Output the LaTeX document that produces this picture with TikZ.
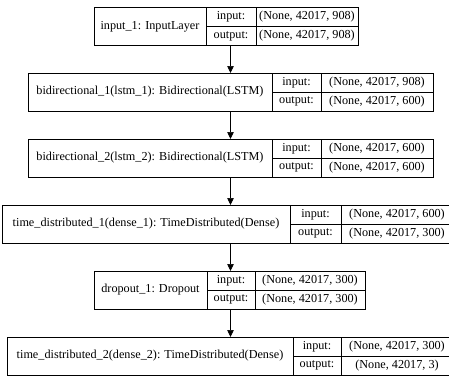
\documentclass[tikz,border=0pt]{standalone}
\usepackage{fontspec}
\setmainfont{Liberation Serif}
\usetikzlibrary{arrows.meta,positioning}

\begin{document}
\begin{tikzpicture}[x=1pt,y=-1pt,
cell/.style={draw,line width=.7pt,inner sep=0pt,outer sep=0pt,anchor=north west,font=\fontsize{12.2}{14}\selectfont},
lbl/.style={cell,minimum height=38pt},
key/.style={cell,minimum height=19pt},
arr/.style={-{Triangle[length=7pt,width=6.5pt]},line width=.7pt}]
\useasboundingbox (0,0) rectangle (449,376);
\clip (0,0) rectangle (449,376);
\coordinate (spine) at (230.5,0);
% input layer
\node[lbl,minimum width=112pt] at (94,7.5)(l1){input\_1: InputLayer};
\node[key,minimum width=50pt] at (l1.north east)(k1i){input:};
\node[key,minimum width=50pt] at (k1i.south west)(k1o){output:};
\node[key,minimum width=102pt] at (k1i.north east)(v1i){(None, 42017, 908)};
\node[key,minimum width=102pt] at (k1o.north east)(v1o){(None, 42017, 908)};
% lstm 1
\node[lbl,minimum width=244pt] at (28,73)(l2){bidirectional\_1(lstm\_1): Bidirectional(LSTM)};
\node[key,minimum width=49pt] at (l2.north east)(k2i){input:};
\node[key,minimum width=49pt] at (k2i.south west)(k2o){output:};
\node[key,minimum width=112pt] at (k2i.north east)(v2i){(None, 42017, 908)};
\node[key,minimum width=112pt] at (k2o.north east)(v2o){(None, 42017, 600)};
% lstm 2
\node[lbl,minimum width=244pt] at (28,139)(l3){bidirectional\_2(lstm\_2): Bidirectional(LSTM)};
\node[key,minimum width=49pt] at (l3.north east)(k3i){input:};
\node[key,minimum width=49pt] at (k3i.south west)(k3o){output:};
\node[key,minimum width=112pt] at (k3i.north east)(v3i){(None, 42017, 600)};
\node[key,minimum width=112pt] at (k3o.north east)(v3o){(None, 42017, 600)};
% dense 1
\node[lbl,minimum width=288pt] at (2,205)(l4){time\_distributed\_1(dense\_1): TimeDistributed(Dense)};
\node[key,minimum width=51pt] at (l4.north east)(k4i){input:};
\node[key,minimum width=51pt] at (k4i.south west)(k4o){output:};
\node[key,minimum width=112pt] at (k4i.north east)(v4i){(None, 42017, 600)};
\node[key,minimum width=112pt] at (k4o.north east)(v4o){(None, 42017, 300)};
% dropout
\node[lbl,minimum width=113pt] at (94,271)(l5){dropout\_1: Dropout};
\node[key,minimum width=48pt] at (l5.north east)(k5i){input:};
\node[key,minimum width=48pt] at (k5i.south west)(k5o){output:};
\node[key,minimum width=110pt] at (k5i.north east)(v5i){(None, 42017, 300)};
\node[key,minimum width=110pt] at (k5o.north east)(v5o){(None, 42017, 300)};
% dense 2
\node[lbl,minimum width=286pt] at (7,337)(l6){time\_distributed\_2(dense\_2): TimeDistributed(Dense)};
\node[key,minimum width=48pt] at (l6.north east)(k6i){input:};
\node[key,minimum width=48pt] at (k6i.south west)(k6o){output:};
\node[key,minimum width=112pt] at (k6i.north east)(v6i){(None, 42017, 300)};
\node[key,minimum width=112pt] at (k6o.north east)(v6o){(None, 42017, 3)};
\draw[arr](l1.south -| spine)--(l2.north -| spine);\draw[arr](l2.south -| spine)--(l3.north -| spine);
\draw[arr](l3.south -| spine)--(l4.north -| spine);\draw[arr](l4.south -| spine)--(l5.north -| spine);
\draw[arr](l5.south -| spine)--(l6.north -| spine);
\end{tikzpicture}
\end{document}
